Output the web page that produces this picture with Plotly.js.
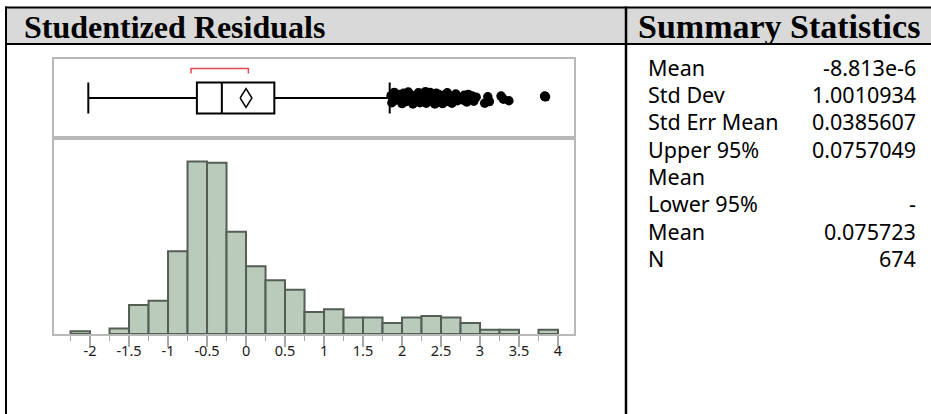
<!DOCTYPE html>
<html><head><meta charset="utf-8">
<script src="https://cdn.plot.ly/plotly-3.0.1.min.js"></script>
<style>html,body{margin:0;padding:0;background:#fff;overflow:hidden}#chart{width:931px;height:414px}</style>
</head><body><div id="chart"></div>
<script>
// ---------- data ----------
const binLeft = [-2.25,-1.75,-1.5,-1.25,-1,-0.75,-0.5,-0.25,0,0.25,0.5,0.75,1,1.25,1.5,1.75,2,2.25,2.5,2.75,3,3.25,3.75];
const binCounts = [2,4,21,24,60,125,124,74,49,39,32,16,18,12,12,8,12,13,12,8,3,3,3];
const binWidth = 0.25;

const tickVals = [-2,-1.5,-1,-0.5,0,0.5,1,1.5,2,2.5,3,3.5,4];
const tickLabels = ["-2","-1.5","-1","-0.5","0","0.5","1","1.5","2","2.5","3","3.5","4"];

const boxQ1 = [-0.63];
const boxMedian = [-0.31];
const boxQ3 = [0.363];
const boxLowerFence = [-2.022];
const boxUpperFence = [1.842];
const shortestHalf = [-0.705, 0.03];

const outlierX = [1.86,1.87,1.90,1.93,1.97,
  2.00,2.02,2.04,2.05,2.08,2.10,2.11,2.14,2.16,2.19,2.21,2.23,
  2.26,2.27,2.30,2.31,2.34,2.36,2.37,2.40,2.42,2.44,2.45,2.47,2.49,
  2.51,2.52,2.55,2.57,2.58,2.60,2.63,2.64,2.66,2.69,2.71,2.74,
  2.78,2.80,2.83,2.85,2.87,2.90,2.92,2.95,
  3.06,3.10,3.12,
  3.27,3.30,3.37,
  3.83,3.83,3.84];
const outlierJitter = [0.06,-0.12,0.14,-0.05,0.09,
  -0.14,0.12,0.02,-0.09,0.15,-0.03,0.08,-0.15,0.05,-0.07,0.13,-0.12,
  0.10,-0.06,0.16,-0.13,0.01,0.14,-0.08,0.07,-0.15,0.12,-0.03,0.09,-0.11,
  0.03,-0.14,0.08,-0.01,0.13,-0.09,0.06,-0.13,0.02,0.10,-0.07,0.0,
  -0.05,0.07,-0.10,0.09,-0.02,0.05,-0.08,0.02,
  -0.13,0.03,-0.09,
  0.05,-0.03,-0.07,
  0.04,0.05,0.03];

const statLabels = ["Mean","Std Dev","Std Err Mean","Upper 95%","Mean","Lower 95%","Mean","N"];
const statValues = ["-8.813e-6","1.0010934","0.0385607","0.0757049","","-","0.075723","674"];
const meanValue = -8.813e-6;
const upper95 = 0.0757049;
const lower95 = -0.075723;

const leftTitle = "Studentized Residuals";
const rightTitle = "Summary Statistics";

// ---------- layout helpers (pixels -> paper) ----------
const W = 931, H = 414;
const px = v => v / W;
const py = v => 1 - v / H;

const frameColor = "#b8b8b8";
const xDomain = [px(54), px(574)];
const histDomain = [py(334), py(137.5)];
const boxDomain = [py(137.5), py(58.5)];

const diamondHalf = 0.235;
const bracketTop = 0.745, bracketEnd = 0.62;

const traces = [
  {
    type: "bar", x: binLeft, y: binCounts, width: binWidth, offset: 0,
    marker: {color: "#bacbbb", line: {color: "#545e55", width: 2}},
    xaxis: "x", yaxis: "y", hoverinfo: "skip"
  },
  {
    type: "box", orientation: "h", y: [0],
    q1: boxQ1, median: boxMedian, q3: boxQ3,
    lowerfence: boxLowerFence, upperfence: boxUpperFence,
    boxpoints: false, width: 0.785, whiskerwidth: 1,
    fillcolor: "rgba(255,255,255,1)", line: {color: "#000", width: 2},
    xaxis: "x2", yaxis: "y2", hoverinfo: "skip"
  },
  {
    type: "scatter", mode: "lines",
    x: [lower95, meanValue, upper95, meanValue, lower95],
    y: [0, diamondHalf, 0, -diamondHalf, 0],
    line: {color: "#000", width: 1.5}, xaxis: "x2", yaxis: "y2", hoverinfo: "skip"
  },
  {
    type: "scatter", mode: "lines",
    x: [shortestHalf[0], shortestHalf[0], shortestHalf[1], shortestHalf[1]],
    y: [bracketEnd, bracketTop, bracketTop, bracketEnd],
    line: {color: "#e84552", width: 1.5}, xaxis: "x2", yaxis: "y2", hoverinfo: "skip"
  },
  {
    type: "scatter", mode: "markers", x: outlierX, y: outlierJitter,
    marker: {color: "#000", size: 9.5}, xaxis: "x2", yaxis: "y2", hoverinfo: "skip"
  }
];

const shapes = [
  {type:"rect", xref:"paper", yref:"paper", x0:px(6), x1:px(931), y0:py(44), y1:py(8), fillcolor:"#d9d9d9", line:{width:0}, layer:"below"},
  {type:"line", xref:"paper", yref:"paper", x0:px(5), x1:px(931), y0:py(7.5), y1:py(7.5), line:{color:"#000", width:2}},
  {type:"line", xref:"paper", yref:"paper", x0:px(5), x1:px(931), y0:py(44), y1:py(44), line:{color:"#000", width:2}},
  {type:"line", xref:"paper", yref:"paper", x0:px(6), x1:px(6), y0:py(6.5), y1:py(414), line:{color:"#000", width:2}},
  {type:"line", xref:"paper", yref:"paper", x0:px(626), x1:px(626), y0:py(6.5), y1:py(414), line:{color:"#000", width:2.5}}
];

const annotations = [
  {xref:"paper", yref:"paper", x:px(22), y:py(27), xanchor:"left", yanchor:"middle", showarrow:false,
   text:"<b>"+leftTitle+"</b>", font:{family:"Liberation Serif", size:32, color:"#000"}},
  {xref:"paper", yref:"paper", x:px(636), y:py(27), xanchor:"left", yanchor:"middle", showarrow:false,
   text:"<b>"+rightTitle+"</b>", font:{family:"Liberation Serif", size:34, color:"#000"}}
];
const rowY = [67, 94.5, 122, 149, 176.5, 203.5, 231, 258];
statLabels.forEach((lab, i) => {
  annotations.push({xref:"paper", yref:"paper", x:px(646), y:py(rowY[i]), xanchor:"left", yanchor:"middle", showarrow:false,
    text: lab, font:{family:"Noto Sans", size:21.5, color:"#000"}});
  if (statValues[i] !== "") annotations.push({xref:"paper", yref:"paper", x:px(918), y:py(rowY[i]), xanchor:"right", yanchor:"middle", showarrow:false,
    text: statValues[i], font:{family:"Noto Sans", size:21.5, color:"#000"}});
});

const xRange = [-2.462, 4.205];
const layout = {
  width: W, height: H, margin: {l:0, r:0, t:0, b:0, pad:0},
  paper_bgcolor: "#fff", plot_bgcolor: "#fff", showlegend: false,
  bargap: 0,
  xaxis: {domain: xDomain, range: xRange, anchor: "y", showgrid: false, zeroline: false,
    showline: true, mirror: true, linecolor: frameColor, linewidth: 2,
    tickmode: "array", tickvals: tickVals, ticktext: tickLabels,
    ticks: "outside", ticklen: 11, tickwidth: 1.5, tickcolor: "#a9a9a9", ticklabelstandoff: -8,
    minor: {tickmode: "linear", tick0: 0.25, dtick: 0.5, ticks: "outside", ticklen: 5, tickwidth: 1.5, tickcolor: "#a9a9a9", showgrid: false},
    tickfont: {family: "Noto Sans", size: 14.5, color: "#1a1a1a"}, automargin: false, fixedrange: true},
  yaxis: {domain: histDomain, range: [0, 142.3], anchor: "x", showgrid: false, zeroline: false,
    showline: true, mirror: true, linecolor: frameColor, linewidth: 2, showticklabels: false, ticks: "", automargin: false, fixedrange: true},
  xaxis2: {domain: xDomain, range: xRange, anchor: "y2", showgrid: false, zeroline: false,
    showline: true, mirror: true, linecolor: frameColor, linewidth: 2, showticklabels: false, ticks: "", automargin: false, fixedrange: true},
  yaxis2: {domain: boxDomain, range: [-1, 1], anchor: "x2", type: "linear", showgrid: false, zeroline: false,
    showline: true, mirror: true, linecolor: frameColor, linewidth: 2, showticklabels: false, ticks: "", automargin: false, fixedrange: true},
  shapes: shapes, annotations: annotations
};

Plotly.newPlot("chart", traces, layout, {staticPlot: true, displayModeBar: false});
</script></body></html>
